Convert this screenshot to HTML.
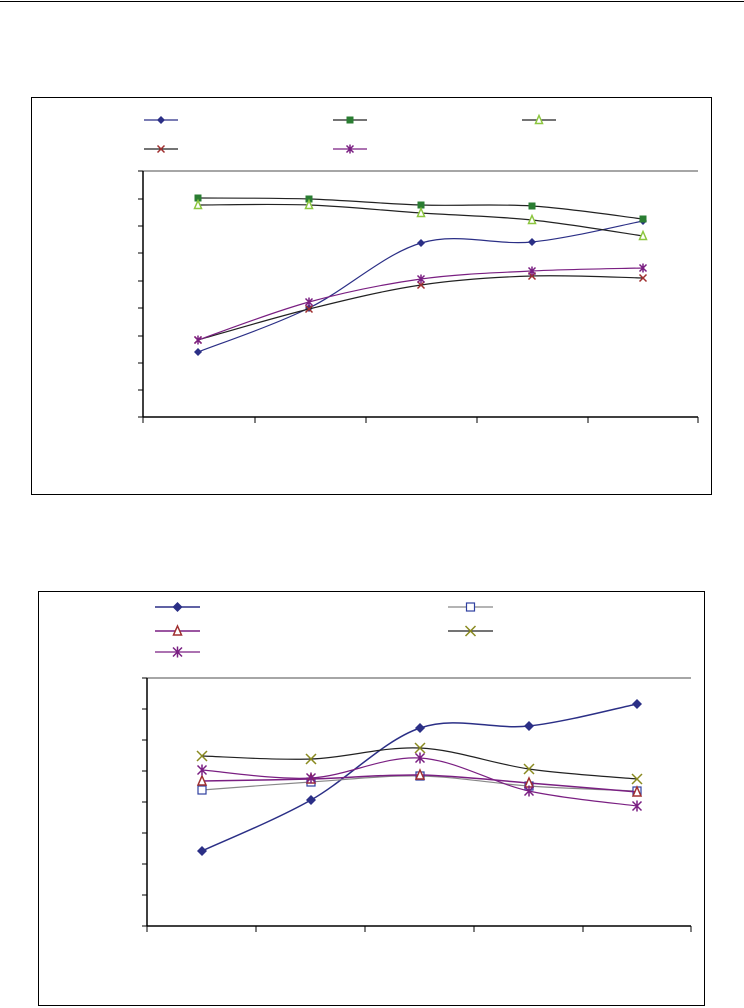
<!DOCTYPE html>
<html><head><meta charset="utf-8"><style>body{margin:0;background:#fff}svg{display:block}</style></head>
<body>
<svg id="s" width="744" height="1008" xmlns="http://www.w3.org/2000/svg">
<line x1="0" y1="1.5" x2="744" y2="1.5" stroke="#000" stroke-width="1"/>
<rect x="31.5" y="97.5" width="680" height="397" fill="none" stroke="#000"/>
<rect x="38.5" y="591.5" width="666" height="414" fill="none" stroke="#000"/>
<g id="g"></g>
</svg>
<script>
const NS="http://www.w3.org/2000/svg",g=document.getElementById('g');
function el(t,a){const e=document.createElementNS(NS,t);for(const k in a)e.setAttribute(k,a[k]);g.appendChild(e);return e;}
function curve(xs,ys){let d=`M${xs[0]},${ys[0]}`;const n=xs.length;for(let i=0;i<n-1;i++){const x0=xs[i-1]??xs[i],y0=ys[i-1]??ys[i],x3=xs[i+2]??xs[i+1],y3=ys[i+2]??ys[i+1];const t=1/6;d+=` C${xs[i]+(xs[i+1]-x0)*t},${ys[i]+(ys[i+1]-y0)*t} ${xs[i+1]-(x3-xs[i])*t},${ys[i+1]-(y3-ys[i])*t} ${xs[i+1]},${ys[i+1]}`;}return d;}
function marker(type,x,y,c,s){s=s||4;
 if(type=='d')el('path',{d:`M${x},${y-s-1}L${x+s+1},${y}L${x},${y+s+1}L${x-s-1},${y}Z`,fill:c});
 else if(type=='sq')el('rect',{x:x-s,y:y-s,width:2*s,height:2*s,fill:c});
 else if(type=='osq')el('rect',{x:x-s,y:y-s,width:2*s,height:2*s,fill:'#fff',stroke:c,'stroke-width':1.2});
 else if(type=='t')el('path',{d:`M${x},${y-s-1}L${x+s},${y+s}L${x-s},${y+s}Z`,fill:'#fff',stroke:c,'stroke-width':1.5});
 else if(type=='x')el('path',{d:`M${x-s},${y-s}L${x+s},${y+s}M${x+s},${y-s}L${x-s},${y+s}`,stroke:c,'stroke-width':1.5});
 else if(type=='st')el('path',{d:`M${x-s},${y-s}L${x+s},${y+s}M${x+s},${y-s}L${x-s},${y+s}M${x},${y-s-1}L${x},${y+s+1}`,stroke:c,'stroke-width':1.5});
}
function chart(L,T,R,B,yt,xt,px,series,legend){
 el('line',{x1:L,y1:T,x2:R,y2:T,stroke:'#888','stroke-width':1.5});
 el('line',{x1:L,y1:T,x2:L,y2:B,stroke:'#000','stroke-width':1.5});
 el('line',{x1:L,y1:B,x2:R,y2:B,stroke:'#000','stroke-width':1.5});
 yt.forEach(y=>el('line',{x1:L-5,y1:y,x2:L,y2:y,stroke:'#000'}));
 xt.forEach(x=>el('line',{x1:x,y1:B,x2:x,y2:B+6,stroke:'#000'}));
 series.forEach(s=>{el('path',{d:curve(px,s.y),fill:'none',stroke:s.lc,'stroke-width':s.w||1.2});s.y.forEach((y,i)=>marker(s.m,px[i],y,s.mc,s.ms));});
 legend.forEach(l=>{const s=series[l[0]];el('line',{x1:l[1],y1:l[3],x2:l[2],y2:l[3],stroke:s.lc,'stroke-width':s.w||1.2});marker(s.m,(l[1]+l[2])/2,l[3],s.mc,s.ms);});
}
chart(143,171,698,417,[171,199,226,253,281,308,336,363,390,417],[143,255,366,477,588,698],[198,309,421,532,643],[
 {y:[352,308,243,242,221],lc:'#2b2f86',m:'d',mc:'#2b2f86',ms:3},
 {y:[198,199,205,206,219],lc:'#222',m:'sq',mc:'#2a7d32',ms:3.5},
 {y:[205,205,213,220,236],lc:'#222',m:'t',mc:'#8cc63f',ms:3.5},
 {y:[340,309,285,276,278],lc:'#222',m:'x',mc:'#a03030',ms:3.5},
 {y:[340,302,279,271,268],lc:'#7a1f82',m:'st',mc:'#7a1f82',ms:3.5}],
 [[0,144,178,120],[1,333,367,120],[2,522,556,120],[3,144,178,149],[4,333,367,149]]);
chart(147,678,691,926,[678,709,740,771,802,833,864,895,926],[147,256,365,474,583,691],[202,311,420,529,637],[
 {y:[851,800,728,726,704],lc:'#2b2f86',m:'d',mc:'#2b2f86',ms:4,w:1.5},
 {y:[790,782,776,786,791],lc:'#888',m:'osq',mc:'#3040a0',ms:4},
 {y:[781,779,775,783,792],lc:'#7a1f82',m:'t',mc:'#a03030',ms:4,w:1.5},
 {y:[756,759,748,769,779],lc:'#222',m:'x',mc:'#8a8a20',ms:5},
 {y:[770,778,758,791,806],lc:'#7a1f82',m:'st',mc:'#7a1f82',ms:4.5}],
 [[0,155,200,607],[1,448,493,607],[2,155,200,631],[3,448,493,631],[4,155,200,652]]);
</script>
</body></html>
